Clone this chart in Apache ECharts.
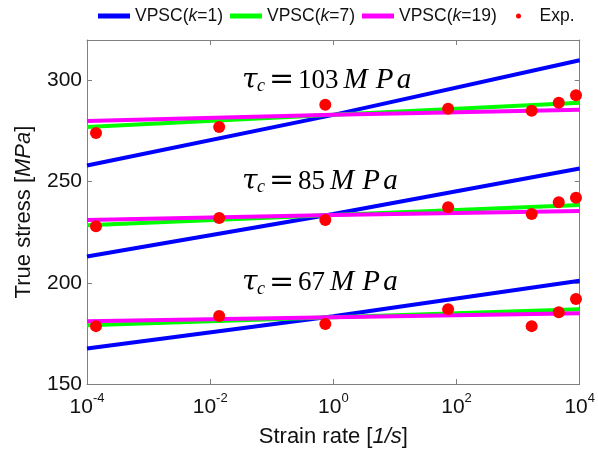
<!DOCTYPE html>
<html>
<head>
<meta charset="utf-8">
<script src="https://cdn.jsdelivr.net/npm/echarts@6/dist/echarts.min.js"></script>
<style>
  html, body { margin: 0; padding: 0; background: #fff; }
  #chart { width: 598px; height: 454px; }
</style>
</head>
<body>
<div id="chart"></div>
<script>
  const lineRates = [1e-4, 1, 1e4];
  // VPSC model, one array per tau_c group (103, 85, 67 MPa)
  const k1 = [[258, 283, 310], [213, 234, 256.5], [167.5, 183.5, 201]];
  const k7 = [[277, 283, 289], [228.5, 233.5, 238.5], [179, 183, 187]];
  const k19 = [[280, 283, 285.5], [231, 233.5, 235.5], [181, 183, 185]];

  // experiments
  const expRates = [1.4e-4, 1.4e-2, 0.74, 73, 1660, 4570, 8700];
  const exp103 = [274, 277, 288, 286, 285, 289, 292.7];
  const exp85 = [228, 232, 231, 237.3, 234, 239.8, 242];
  const exp67 = [178.6, 183.6, 179.6, 187, 178.6, 185.5, 192];

  const tauLabels = ['103', '85', '67'];
  const yTicks = [150, 200, 250, 300];

  const zip = (xs, ys) => xs.map((x, i) => [x, ys[i]]);

  let series = [];
  const models = [
    {name: 'VPSC(k=1)', color: '#0000ff', data: k1},
    {name: 'VPSC(k=7)', color: '#00ff00', data: k7},
    {name: 'VPSC(k=19)', color: '#ff00ff', data: k19}
  ];
  models.forEach(m => {
    m.data.forEach(vals => {
      series.push({
        name: m.name,
        type: 'line',
        data: zip(lineRates, vals),
        symbol: 'none',
        color: m.color,
        lineStyle: {width: 4, color: m.color},
        z: 2
      });
    });
  });
  [exp103, exp85, exp67].forEach(vals => {
    series.push({
      name: 'Exp.',
      type: 'scatter',
      data: zip(expRates, vals),
      symbolSize: 12,
      color: '#ff0000',
      itemStyle: {color: '#ff0000', opacity: 1},
      clip: false,
      z: 5
    });
  });

  const grid = {left: 87, right: 16, top: 40, bottom: 70};
  const plotH = 454 - grid.top - grid.bottom;
  const yToPx = v => grid.top + (320 - v) / 170 * plotH;
  const tauY = [300, 250, 200];

  const axisColor = '#808080';
  const sans = 'Liberation Sans, Arial, sans-serif';
  const serif = 'Liberation Serif, serif';
  const legendRich = {
    n: {fontSize: 17.5, color: '#111', fontFamily: sans},
    i: {fontSize: 17.5, color: '#111', fontStyle: 'italic', fontFamily: sans}
  };

  let chart = echarts.init(document.getElementById('chart'));
  chart.setOption({
    animation: false,
    legend: [
      {
        left: 93,
        top: 2,
        itemWidth: 32,
        itemHeight: 5,
        itemGap: 7,
        data: [
          {name: 'VPSC(k=1)', icon: 'rect'},
          {name: 'VPSC(k=7)', icon: 'rect'},
          {name: 'VPSC(k=19)', icon: 'rect'}
        ],
        formatter: name => {
          let m = name.match(/^VPSC\(k=(\d+)\)$/);
          return '{n|VPSC(}{i|k}{n|=' + m[1] + ')}';
        },
        textStyle: {rich: legendRich}
      },
      {
        left: 516,
        top: 7,
        padding: 0,
        itemWidth: 32,
        itemHeight: 5,
        data: [{name: 'Exp.', icon: 'circle'}],
        formatter: name => '{n|' + name + '}',
        textStyle: {rich: legendRich}
      }
    ],
    grid: grid,
    xAxis: [
      {
        type: 'log',
        logBase: 10,
        min: 1e-4,
        max: 1e4,
        interval: 2,
        position: 'bottom',
        name: '{n|Strain rate [}{i|1/s}{n|]}',
        nameLocation: 'middle',
        nameGap: 42,
        nameTextStyle: {
          rich: {
            n: {fontSize: 22, color: '#111', fontFamily: sans},
            i: {fontSize: 22, color: '#111', fontStyle: 'italic', fontFamily: sans}
          }
        },
        axisLine: {lineStyle: {color: axisColor, width: 1}},
        axisTick: {inside: true, length: 5, lineStyle: {color: axisColor}},
        splitLine: {show: false},
        axisLabel: {
          margin: 8,
          formatter: v => {
            let e = Math.round(Math.log10(v));
            if (e % 2 !== 0) return '';
            return '{b|10}{s|' + e + '}';
          },
          rich: {
            b: {fontSize: 21, color: '#111', fontFamily: sans, lineHeight: 26, verticalAlign: 'bottom'},
            s: {fontSize: 13, color: '#111', fontFamily: sans, verticalAlign: 'top', lineHeight: 26}
          }
        }
      },
      {
        type: 'log',
        logBase: 10,
        min: 1e-4,
        max: 1e4,
        interval: 2,
        position: 'top',
        axisLine: {lineStyle: {color: axisColor, width: 1}},
        axisTick: {inside: true, length: 5, lineStyle: {color: axisColor}},
        splitLine: {show: false},
        axisLabel: {show: false}
      }
    ],
    yAxis: [
      {
        type: 'value',
        min: 150,
        max: 320,
        interval: 50,
        position: 'left',
        name: '{n|True stress [}{i|MPa}{n|]}',
        nameLocation: 'middle',
        nameGap: 52,
        nameTextStyle: {
          rich: {
            n: {fontSize: 22, color: '#111', fontFamily: sans},
            i: {fontSize: 22, color: '#111', fontStyle: 'italic', fontFamily: sans}
          }
        },
        axisLine: {show: true, lineStyle: {color: axisColor, width: 1}},
        axisTick: {show: true, inside: true, length: 5, lineStyle: {color: axisColor}},
        splitLine: {show: false},
        axisLabel: {
          margin: 5,
          showMaxLabel: false,
          color: '#111',
          fontSize: 21,
          fontFamily: sans,
          formatter: v => yTicks.includes(v) ? String(v) : ''
        }
      },
      {
        type: 'value',
        min: 150,
        max: 320,
        interval: 50,
        position: 'right',
        axisLine: {show: true, lineStyle: {color: axisColor, width: 1}},
        axisTick: {show: true, inside: true, length: 5, lineStyle: {color: axisColor}},
        splitLine: {show: false},
        axisLabel: {show: false}
      }
    ],
    // tau_c annotations, set like LaTeX math
    graphic: tauLabels.map((t, i) => ({
      type: 'text',
      x: 242,
      y: yToPx(tauY[i]),
      z: 10,
      style: {
        text: '{t|τ}{c|c}{e|=}{n|' + t + '}{m|M}{p|P}{a|a}',
        verticalAlign: 'middle',
        rich: {
          t: {fontSize: 28, fontStyle: 'italic', fontFamily: 'DejaVu Serif, serif', fill: '#000', width: 15},
          c: {fontSize: 18, fontStyle: 'italic', fontFamily: serif, fill: '#000', verticalAlign: 'bottom', padding: [12, 0, 0, 0], width: 8},
          e: {fontSize: 30, fontFamily: 'DejaVu Serif, serif', fill: '#000', width: 33, align: 'center'},
          n: {fontSize: 27, fontFamily: serif, fill: '#000'},
          m: {fontSize: 29, fontStyle: 'italic', fontFamily: serif, fill: '#000', width: 34, align: 'left'},
          p: {fontSize: 29, fontStyle: 'italic', fontFamily: serif, fill: '#000', width: 24, align: 'left'},
          a: {fontSize: 29, fontStyle: 'italic', fontFamily: serif, fill: '#000', width: 15}
        }
      }
    })),
    series: series
  });
</script>
</body>
</html>
